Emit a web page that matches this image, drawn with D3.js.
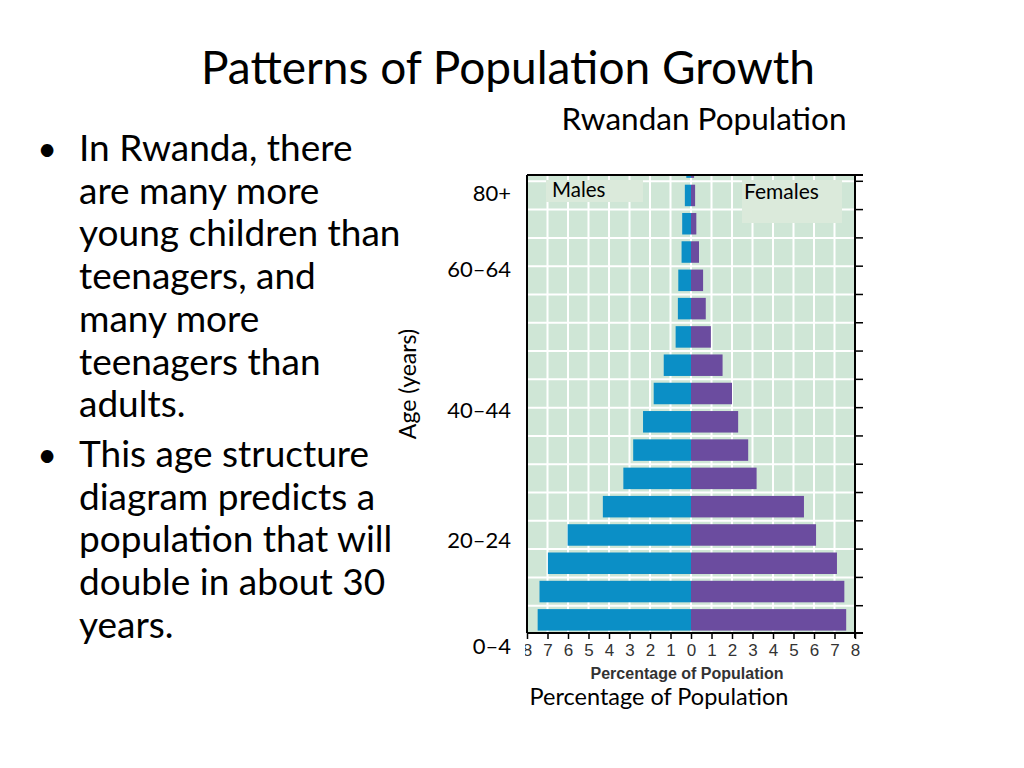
<!DOCTYPE html>
<html>
<head>
<meta charset="utf-8">
<script src="https://cdn.jsdelivr.net/npm/d3@7"></script>
<style>
  body { margin: 0; background: #fff; }
  svg { display: block; }
</style>
</head>
<body>
<svg id="svg1" width="1024" height="768"></svg>
<script>
// age groups, bottom to top
var ageGroups = ["0–4", "5–9", "10–14", "15–19", "20–24", "25–29", "30–34", "35–39",
                 "40–44", "45–49", "50–54", "55–59", "60–64", "65–69", "70–74", "75–79", "80+"];
var males   = [7.48, 7.39, 6.98, 6.02, 4.30, 3.30, 2.82, 2.34, 1.82, 1.33, 0.75, 0.64, 0.62, 0.46, 0.43, 0.30, 0.23];
var females = [7.57, 7.48, 7.12, 6.10, 5.51, 3.20, 2.79, 2.30, 2.00, 1.54, 0.97, 0.72, 0.59, 0.39, 0.26, 0.20, 0.15];
var xTicks = d3.range(-8, 9);
var ageLabels = ["0–4", "20–24", "40–44", "60–64", "80+"];
var ageLabelAt = [0, 20, 40, 60, 80];

var bullets = [
  ["In Rwanda, there", "are many more", "young children than", "teenagers, and",
   "many more", "teenagers than", "adults."],
  ["This age structure", "diagram predicts a", "population that will",
   "double in about 30", "years."]
];

var svg = d3.select('#svg1');
var font = "Lato, 'Open Sans', sans-serif";
var arial = "'Liberation Sans', Arial, sans-serif";

var plotLeft = 527, plotRight = 855, plotTop = 175, plotBottom = 633;

var x = d3.scaleLinear()
    .domain([-8, 8])
    .range([plotLeft, plotRight]);

var y = d3.scaleBand()
    .domain(ageGroups)
    .range([634, 153])
    .paddingInner(0.24)
    .paddingOuter(0.12);

var step = y.step();

// overlay labels put on the slide by hand
var yLabel = d3.scaleLinear()
    .domain([0, 20, 40, 60, 80])
    .range([646, 540, 410, 269, 193]);

// title
svg.append('text')
    .attr('x', 508).attr('y', 84)
    .attr('text-anchor', 'middle')
    .attr('font-family', font).attr('font-size', 46)
    .attr('fill', '#000')
    .text('Patterns of Population Growth');

svg.append('text')
    .attr('x', 704).attr('y', 130)
    .attr('text-anchor', 'middle')
    .attr('font-family', font).attr('font-size', 31.5)
    .text('Rwandan Population');

// bullets
var lineY = 161;
bullets.forEach(function (lines, bi) {
    if (bi > 0) lineY += 7;
    svg.append('text')
        .attr('x', 47).attr('y', lineY)
        .attr('text-anchor', 'middle')
        .attr('font-family', font).attr('font-size', 34)
        .text('•');
    lines.forEach(function (l) {
        svg.append('text')
            .attr('x', 79).attr('y', lineY)
            .attr('font-family', font).attr('font-size', 37)
            .text(l);
        lineY += 42.7;
    });
});

// plot
svg.append('clipPath').attr('id', 'plotclip')
    .append('rect')
    .attr('x', plotLeft).attr('y', plotTop)
    .attr('width', plotRight - plotLeft).attr('height', plotBottom - plotTop);

var plot = svg.append('g').attr('clip-path', 'url(#plotclip)');

plot.append('rect')
    .attr('x', plotLeft).attr('y', plotTop)
    .attr('width', plotRight - plotLeft).attr('height', plotBottom - plotTop)
    .attr('fill', '#cfe6d6');

plot.selectAll('line.vgrid')
    .data(xTicks.slice(1, -1))
    .enter()
    .append('line')
    .attr('class', 'vgrid')
    .attr('x1', function (d) { return x(d); })
    .attr('x2', function (d) { return x(d); })
    .attr('y1', plotTop).attr('y2', plotBottom)
    .attr('stroke', '#fff').attr('stroke-width', 2);

plot.selectAll('line.hgrid')
    .data(ageGroups.slice(1))
    .enter()
    .append('line')
    .attr('class', 'hgrid')
    .attr('x1', plotLeft).attr('x2', plotRight)
    .attr('y1', function (d) { return y(d) + y.bandwidth() + step * 0.12; })
    .attr('y2', function (d) { return y(d) + y.bandwidth() + step * 0.12; })
    .attr('stroke', '#fff').attr('stroke-width', 2);

plot.selectAll('rect.male')
    .data(ageGroups)
    .enter()
    .append('rect')
    .attr('class', 'male')
    .attr('x', function (d, i) { return x(-males[i]); })
    .attr('y', function (d) { return y(d); })
    .attr('width', function (d, i) { return x(0) - x(-males[i]); })
    .attr('height', y.bandwidth())
    .attr('fill', '#0b8fc6');

plot.selectAll('rect.female')
    .data(ageGroups)
    .enter()
    .append('rect')
    .attr('class', 'female')
    .attr('x', x(0))
    .attr('y', function (d) { return y(d); })
    .attr('width', function (d, i) { return x(females[i]) - x(0); })
    .attr('height', y.bandwidth())
    .attr('fill', '#6b4c9f');

// legend boxes
plot.append('rect')
    .attr('x', 546).attr('y', 180).attr('width', 97).attr('height', 22)
    .attr('fill', '#dbeadb');
plot.append('text')
    .attr('x', 552).attr('y', 197)
    .attr('font-family', font).attr('font-size', 20.5)
    .text('Males');
plot.append('rect')
    .attr('x', 742).attr('y', 180).attr('width', 100).attr('height', 43)
    .attr('fill', '#dbeadb');
plot.append('text')
    .attr('x', 744).attr('y', 199)
    .attr('font-family', font).attr('font-size', 21)
    .text('Females');

// frame
var frame = svg.append('g').attr('stroke', '#000').attr('stroke-width', 2);
frame.append('line').attr('x1', plotLeft).attr('x2', 863).attr('y1', plotTop).attr('y2', plotTop);
frame.append('line').attr('x1', plotLeft).attr('x2', 863).attr('y1', plotBottom).attr('y2', plotBottom);
frame.append('line').attr('x1', plotLeft).attr('x2', plotLeft).attr('y1', plotTop).attr('y2', plotBottom);
frame.append('line').attr('x1', plotRight).attr('x2', plotRight).attr('y1', plotTop).attr('y2', plotBottom + 5);

// right side ticks at row boundaries
frame.selectAll('line.rtick')
    .data(ageGroups.slice(1))
    .enter()
    .append('line')
    .attr('class', 'rtick')
    .attr('stroke-width', 1.5)
    .attr('x1', plotRight).attr('x2', 863)
    .attr('y1', function (d) { return y(d) + y.bandwidth() + step * 0.12; })
    .attr('y2', function (d) { return y(d) + y.bandwidth() + step * 0.12; });

// x axis (left "8" is cut off in the original picture)
svg.append('clipPath').attr('id', 'axisclip')
    .append('rect').attr('x', 525).attr('y', 630).attr('width', 400).attr('height', 40);

var xAxis = svg.append('g')
    .attr('clip-path', 'url(#axisclip)')
    .append('g')
    .attr('transform', 'translate(0,' + plotBottom + ')')
    .call(d3.axisBottom(x)
        .tickValues(xTicks)
        .tickFormat(function (d) { return Math.abs(d); })
        .tickSize(6)
        .tickPadding(5));
xAxis.select('.domain').remove();
xAxis.selectAll('line').attr('stroke', '#000').attr('stroke-width', 1.5);
xAxis.selectAll('text')
    .attr('font-family', arial)
    .attr('font-size', 17)
    .attr('fill', '#333');

svg.append('text')
    .attr('x', 687).attr('y', 679)
    .attr('text-anchor', 'middle')
    .attr('font-family', arial)
    .attr('font-weight', 'bold').attr('font-size', 16)
    .attr('fill', '#333')
    .text('Percentage of Population');

svg.append('text')
    .attr('x', 659).attr('y', 705)
    .attr('text-anchor', 'middle')
    .attr('font-family', font).attr('font-size', 23.5)
    .text('Percentage of Population');

// age labels
svg.selectAll('text.age')
    .data(ageLabels)
    .enter()
    .append('text')
    .attr('class', 'age')
    .attr('x', 511)
    .attr('y', function (d, i) { return yLabel(ageLabelAt[i]); })
    .attr('dy', '0.35em')
    .attr('text-anchor', 'end')
    .attr('font-family', font).attr('font-size', 22)
    .text(function (d) { return d; });

svg.append('text')
    .attr('transform', 'translate(416,384) rotate(-90)')
    .attr('text-anchor', 'middle')
    .attr('font-family', font).attr('font-size', 23)
    .text('Age (years)');
</script>
</body>
</html>
